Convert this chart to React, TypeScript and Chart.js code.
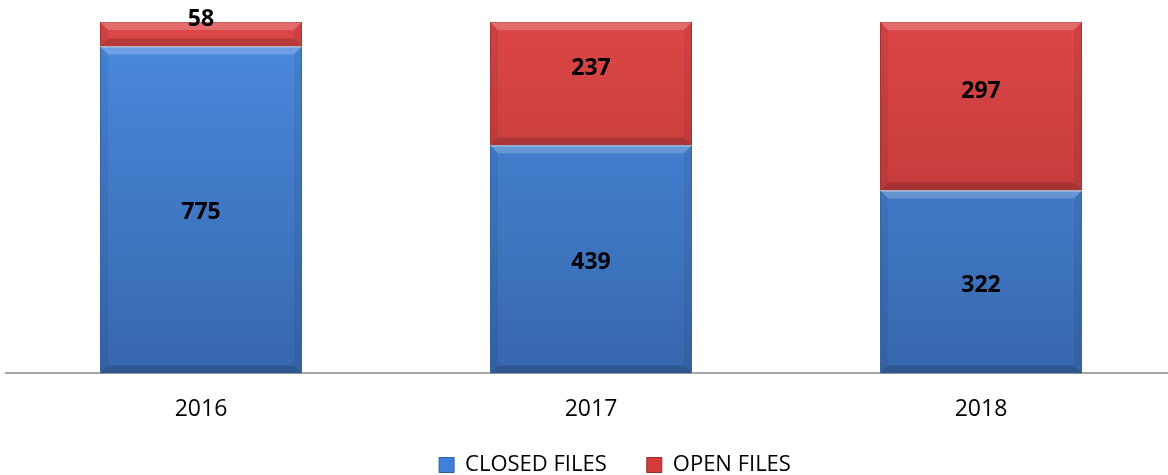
import React, { useEffect, useRef } from "react";
import { Chart, registerables } from "chart.js";

Chart.register(...registerables);

const years = ["2016", "2017", "2018"];
const closedFiles = [775, 439, 322];
const openFiles = [58, 237, 297];
const seriesNames = ["CLOSED FILES", "OPEN FILES"];

const FONT = "'Open Sans', 'DejaVu Sans', sans-serif";

const totals = years.map((_, i) => closedFiles[i] + openFiles[i]);
const closedPct = closedFiles.map((v, i) => (v / totals[i]) * 100);
const openPct = openFiles.map((v, i) => (v / totals[i]) * 100);

function vGrad(chart: any, top: string, bottom: string) {
  const { ctx, chartArea } = chart;
  if (!chartArea) return top;
  const g = ctx.createLinearGradient(0, chartArea.top, 0, chartArea.bottom);
  g.addColorStop(0, top);
  g.addColorStop(1, bottom);
  return g;
}

const bevelPlugin = {
  id: "bevel",
  afterDatasetsDraw(chart: any) {
    const ctx = chart.ctx;
    chart.data.datasets.forEach((_: any, di: number) => {
      const meta = chart.getDatasetMeta(di);
      meta.data.forEach((bar: any) => {
        const { x, y, base, width } = bar.getProps(["x", "y", "base", "width"], true);
        const l = x - width / 2;
        const r = x + width / 2;
        const t = Math.min(y, base);
        const b = Math.max(y, base);
        const h = b - t;
        const s = Math.min(8, h / 3);
        ctx.save();
        ctx.fillStyle = "rgba(255,255,255,0.2)";
        ctx.beginPath();
        ctx.moveTo(l, t);
        ctx.lineTo(r, t);
        ctx.lineTo(r - s, t + s);
        ctx.lineTo(l + s, t + s);
        ctx.closePath();
        ctx.fill();
        ctx.fillStyle = "rgba(0,0,0,0.16)";
        ctx.beginPath();
        ctx.moveTo(l, b);
        ctx.lineTo(r, b);
        ctx.lineTo(r - s, b - s);
        ctx.lineTo(l + s, b - s);
        ctx.closePath();
        ctx.fill();
        ctx.fillStyle = "rgba(0,0,0,0.06)";
        ctx.beginPath();
        ctx.moveTo(l, t);
        ctx.lineTo(l + s, t + s);
        ctx.lineTo(l + s, b - s);
        ctx.lineTo(l, b);
        ctx.closePath();
        ctx.fill();
        ctx.beginPath();
        ctx.moveTo(r, t);
        ctx.lineTo(r - s, t + s);
        ctx.lineTo(r - s, b - s);
        ctx.lineTo(r, b);
        ctx.closePath();
        ctx.fill();
        ctx.restore();
      });
    });
  },
};

const valueLabelPlugin = {
  id: "valueLabels",
  afterDatasetsDraw(chart: any) {
    const ctx = chart.ctx;
    const raw = [closedFiles, openFiles];
    const offsets = [3, -15];
    ctx.save();
    ctx.font = `bold 23px ${FONT}`;
    ctx.fillStyle = "#000";
    ctx.textAlign = "center";
    ctx.textBaseline = "middle";
    chart.data.datasets.forEach((_: any, di: number) => {
      const meta = chart.getDatasetMeta(di);
      meta.data.forEach((bar: any, i: number) => {
        const { x, y, base } = bar.getProps(["x", "y", "base"], true);
        const cy = (y + base) / 2 + offsets[di];
        ctx.fillText(String(raw[di][i]), x, cy);
      });
    });
    ctx.restore();
  },
};

const legendShiftPlugin = {
  id: "legendShift",
  afterLayout(chart: any) {
    const lg = chart.legend;
    if (lg) {
      lg.left += 24;
      lg.right += 24;
      lg.top -= 23;
      lg.bottom -= 23;
    }
  },
};

export default function App() {
  const ref = useRef<HTMLCanvasElement | null>(null);

  useEffect(() => {
    document.body.style.margin = "0";
    document.body.style.overflow = "hidden";
    const canvas = ref.current!;
    const chart = new Chart(canvas, {
      type: "bar",
      data: {
        labels: years,
        datasets: [
          {
            label: seriesNames[0],
            data: closedPct,
            backgroundColor: (c: any) => vGrad(c.chart, "#4a8ade", "#3767ad"),
            borderColor: "#3a6cb0",
            borderWidth: 1,
            barPercentage: 1,
            categoryPercentage: 0.518,
          },
          {
            label: seriesNames[1],
            data: openPct,
            backgroundColor: (c: any) => vGrad(c.chart, "#dc4646", "#ac3232"),
            borderColor: "#b03636",
            borderWidth: 1,
            barPercentage: 1,
            categoryPercentage: 0.518,
          },
        ],
      },
      options: {
        animation: false,
        responsive: false,
        maintainAspectRatio: false,
        layout: { padding: { left: 6, right: 4, top: 22, bottom: -34 } },
        scales: {
          x: {
            stacked: true,
            grid: { display: false },
            border: { display: true, color: "#a6a6a6", width: 2 },
            ticks: {
              color: "#000",
              padding: 14,
              font: { family: FONT, size: 23 },
            },
          },
          y: {
            stacked: true,
            display: false,
            min: 0,
            max: 100,
          },
        },
        plugins: {
          legend: {
            position: "bottom",
            labels: {
              color: "#000",
              boxWidth: 15,
              boxHeight: 15,
              padding: 40,
              font: { family: FONT, size: 22 },
              generateLabels: (ch: any) =>
                ch.data.datasets.map((ds: any, i: number) => ({
                  text: ds.label,
                  fillStyle: i === 0 ? "#4080d8" : "#d43c3c",
                  strokeStyle: i === 0 ? "#2f5f9f" : "#9a2a2a",
                  lineWidth: 1,
                  datasetIndex: i,
                  fontColor: "#000",
                })),
            },
          },
          tooltip: { enabled: false },
        },
      },
      plugins: [bevelPlugin, valueLabelPlugin, legendShiftPlugin],
    });
    return () => chart.destroy();
  }, []);

  return (
    <div style={{ position: "absolute", left: 0, top: 0, width: 1168, height: 475, overflow: "hidden" }}>
      <canvas ref={ref} width={1180} height={475} style={{ display: "block", width: 1180, height: 475 }} />
    </div>
  );
}
